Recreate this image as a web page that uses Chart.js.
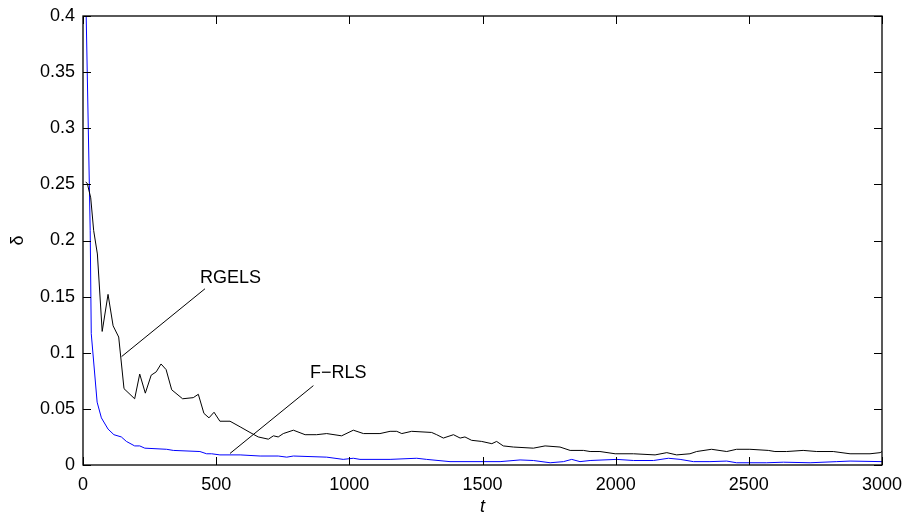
<!DOCTYPE html>
<html>
<head>
<meta charset="utf-8">
<script src="https://cdn.jsdelivr.net/npm/chart.js@4.4.1/dist/chart.umd.min.js"></script>
<style>
    html, body { margin: 0; padding: 0; background: #fff; }
    canvas { display: block; }
</style>
</head>
<body>
<canvas id="grafico" width="906" height="516"></canvas>
<script>
// datos

const tRgels = [10, 16, 29, 40, 54, 72, 94, 113, 134, 154, 194, 213, 234, 256, 275, 293, 312, 333, 374, 414, 433, 454, 473, 492, 514, 552, 590, 627, 658, 696, 715, 733, 752, 790, 834, 877, 915, 971, 1015, 1053, 1115, 1153, 1178, 1197, 1234, 1309, 1328, 1353, 1391, 1416, 1434, 1459, 1497, 1535, 1553, 1578, 1616, 1691, 1735, 1791, 1829, 1879, 1904, 1941, 1998, 2067, 2148, 2192, 2229, 2279, 2304, 2360, 2417, 2454, 2504, 2573, 2598, 2642, 2704, 2755, 2817, 2880, 2955, 2993, 3000];
const dRgels = [0.252, 0.251, 0.238, 0.209, 0.188, 0.119, 0.152, 0.124, 0.114, 0.068, 0.059, 0.081, 0.064, 0.080, 0.083, 0.090, 0.085, 0.067, 0.059, 0.060, 0.063, 0.046, 0.042, 0.047, 0.039, 0.039, 0.034, 0.029, 0.025, 0.023, 0.026, 0.025, 0.028, 0.031, 0.027, 0.027, 0.028, 0.026, 0.031, 0.028, 0.028, 0.030, 0.030, 0.028, 0.030, 0.029, 0.027, 0.024, 0.027, 0.024, 0.025, 0.022, 0.021, 0.019, 0.021, 0.017, 0.016, 0.015, 0.017, 0.016, 0.013, 0.013, 0.012, 0.012, 0.010, 0.010, 0.009, 0.011, 0.009, 0.010, 0.012, 0.014, 0.012, 0.014, 0.014, 0.013, 0.012, 0.012, 0.013, 0.012, 0.012, 0.010, 0.010, 0.011, 0.012];

const tFrls = [0, 12, 27, 31, 53, 69, 94, 116, 144, 163, 194, 213, 232, 314, 339, 439, 464, 483, 514, 590, 665, 733, 765, 790, 915, 977, 1015, 1040, 1153, 1253, 1290, 1378, 1503, 1566, 1641, 1691, 1754, 1804, 1835, 1866, 1904, 2004, 2067, 2142, 2198, 2242, 2292, 2354, 2417, 2454, 2567, 2630, 2730, 2830, 2880, 3000];
const dFrls = [0.55, 0.40, 0.209, 0.117, 0.056, 0.042, 0.032, 0.027, 0.025, 0.021, 0.017, 0.017, 0.015, 0.014, 0.013, 0.012, 0.010, 0.010, 0.009, 0.009, 0.008, 0.008, 0.007, 0.008, 0.007, 0.005, 0.006, 0.005, 0.005, 0.006, 0.005, 0.003, 0.003, 0.003, 0.0045, 0.004, 0.002, 0.003, 0.005, 0.003, 0.004, 0.005, 0.004, 0.004, 0.006, 0.005, 0.003, 0.003, 0.0035, 0.002, 0.002, 0.0025, 0.002, 0.003, 0.0035, 0.003];

const xTicks = [0, 500, 1000, 1500, 2000, 2500, 3000];
const yTicks = [0, 0.05, 0.1, 0.15, 0.2, 0.25, 0.3, 0.35, 0.4];

// etiquetas con linea guia (en coordenadas de datos)
const etiquetas = [
    { texto: 'RGELS', desde: [145, 0.0966], hasta: [458, 0.157], pos: [439, 0.167] },
    { texto: 'F\u2212RLS', desde: [552, 0.0103], hasta: [865, 0.0707], pos: [852, 0.082] }
];

const fuente = '"Liberation Sans", Arial, Helvetica, sans-serif';

function aPuntos(ts, ds) {
    return ts.map((t, i) => ({ x: t, y: ds[i] }));
}

// marco y ticks hacia dentro, estilo matlab
const pluginMarco = {
    id: 'marco',
    afterDatasetsDraw(chart) {
        const ctx = chart.ctx;
        const a = chart.chartArea;
        const sx = chart.scales.x;
        const sy = chart.scales.y;
        const largo = 8;

        ctx.save();

        // lineas guia y textos
        ctx.strokeStyle = '#000';
        ctx.lineWidth = 1;
        ctx.fillStyle = '#000';
        ctx.font = '18px ' + fuente;
        ctx.textAlign = 'left';
        ctx.textBaseline = 'middle';
        etiquetas.forEach(e => {
            ctx.beginPath();
            ctx.moveTo(sx.getPixelForValue(e.desde[0]), sy.getPixelForValue(e.desde[1]));
            ctx.lineTo(sx.getPixelForValue(e.hasta[0]), sy.getPixelForValue(e.hasta[1]));
            ctx.stroke();
            ctx.fillText(e.texto, sx.getPixelForValue(e.pos[0]), sy.getPixelForValue(e.pos[1]));
        });

        ctx.lineWidth = 1.3;
        ctx.strokeRect(a.left, a.top, a.right - a.left, a.bottom - a.top);

        ctx.lineWidth = 1;
        ctx.beginPath();
        xTicks.forEach(v => {
            const px = Math.round(sx.getPixelForValue(v)) + 0.5;
            ctx.moveTo(px, a.bottom);
            ctx.lineTo(px, a.bottom - largo);
            ctx.moveTo(px, a.top);
            ctx.lineTo(px, a.top + largo);
        });
        yTicks.forEach(v => {
            const py = Math.round(sy.getPixelForValue(v)) + 0.5;
            ctx.moveTo(a.left, py);
            ctx.lineTo(a.left + largo, py);
            ctx.moveTo(a.right, py);
            ctx.lineTo(a.right - largo, py);
        });
        ctx.stroke();
        ctx.restore();
    }
};

const ctx = document.getElementById('grafico').getContext('2d');

new Chart(ctx, {
    type: 'line',
    data: {
        datasets: [
            {
                label: 'RGELS',
                data: aPuntos(tRgels, dRgels),
                borderColor: '#000000',
                borderWidth: 1,
                pointRadius: 0,
                tension: 0,
                fill: false
            },
            {
                label: 'F-RLS',
                data: aPuntos(tFrls, dFrls),
                borderColor: '#0000ff',
                borderWidth: 1,
                pointRadius: 0,
                tension: 0,
                fill: false
            }
        ]
    },
    options: {
        responsive: false,
        animation: false,
        layout: {
            padding: { top: 16, right: 24, left: 0, bottom: 0 }
        },
        plugins: {
            legend: { display: false },
            tooltip: { enabled: false }
        },
        scales: {
            x: {
                type: 'linear',
                min: 0,
                max: 3000,
                afterFit: function(scale) {
                    scale.height = 51;
                    scale.paddingLeft = 0;
                    scale.paddingRight = 0;
                },
                afterBuildTicks: function(scale) {
                    scale.ticks = xTicks.map(v => ({ value: v }));
                },
                ticks: {
                    color: '#000',
                    padding: 9,
                    maxRotation: 0,
                    font: { family: fuente, size: 18 },
                    callback: function(value) {
                        return String(value);
                    }
                },
                grid: { display: false, drawTicks: false },
                border: { display: false },
                title: {
                    display: true,
                    text: 't',
                    color: '#000',
                    padding: 0,
                    font: { family: fuente, size: 18, style: 'italic', lineHeight: 1 }
                }
            },
            y: {
                min: 0,
                max: 0.4,
                afterFit: function(scale) {
                    scale.width = 83;
                    scale.paddingTop = 0;
                    scale.paddingBottom = 0;
                },
                afterBuildTicks: function(scale) {
                    scale.ticks = yTicks.map(v => ({ value: v }));
                },
                ticks: {
                    color: '#000',
                    padding: 8,
                    font: { family: fuente, size: 18 },
                    callback: function(value) {
                        return String(+value.toFixed(2));
                    }
                },
                grid: { display: false, drawTicks: false },
                border: { display: false },
                title: {
                    display: true,
                    text: '\u03b4',
                    color: '#000',
                    padding: { top: 9, bottom: 0 },
                    font: { family: fuente, size: 18, lineHeight: 1 }
                }
            }
        }
    },
    plugins: [pluginMarco]
});
</script>
</body>
</html>
